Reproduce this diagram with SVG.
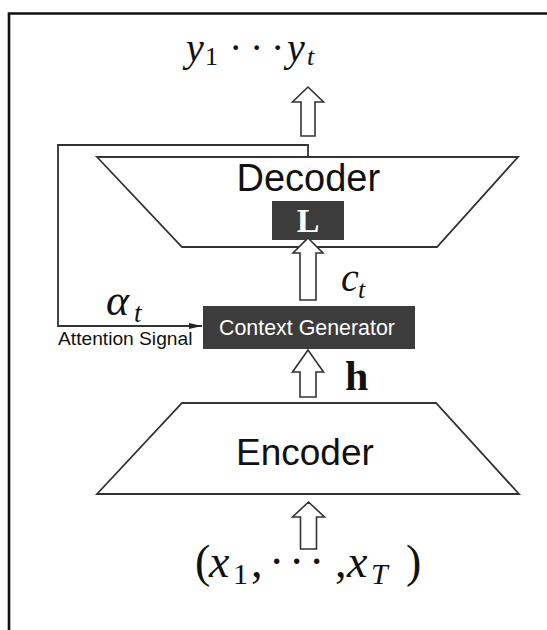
<svg xmlns="http://www.w3.org/2000/svg" width="547" height="630" viewBox="0 0 547 630">
<defs>
<style>
.shape{fill:#fff;stroke:#333;stroke-width:1.8}
.blk{fill:#fff;stroke:#333;stroke-width:1.6}
.dark{fill:#3c3c3c}
.sans{font-family:"Liberation Sans",Arial,sans-serif}
.math{font-family:"Liberation Serif","Times New Roman",serif;fill:#111}
.it{font-style:italic}
.conn{fill:none;stroke:#333;stroke-width:1.8}
</style>
<marker id="ah" markerWidth="14" markerHeight="8" refX="13" refY="4" orient="auto" markerUnits="userSpaceOnUse">
<path d="M0,1 L13,4 L0,7 Z" fill="#222"/>
</marker>
</defs>
<rect width="547" height="630" fill="#fff"/>
<path d="M9,630 V13.5 H547" fill="none" stroke="#111" stroke-width="2.6"/>

<g id="connectors">
<polyline class="conn" points="308,157 308,145 58,145 58,326 202,326" marker-end="url(#ah)"/>
</g>

<g id="output">
<text class="math" y="61" font-size="40"><tspan x="186" class="it">y</tspan><tspan x="205" dy="4" font-size="26">1</tspan><tspan x="229" dy="-4">·</tspan><tspan x="250">·</tspan><tspan x="271">·</tspan><tspan x="287" class="it">y</tspan><tspan x="307" dy="4" font-size="26" class="it">t</tspan></text>
<path class="blk" d="M308,87 L323.5,102 L315,102 L315,136 L301,136 L301,102 L292.5,102 Z"/>
</g>

<g id="decoder">
<polygon class="shape" points="97,157 518,157 437,247 182,247"/>
<text class="sans" x="236.5" y="191" font-size="38" fill="#111">Decoder</text>
<rect class="dark" x="272" y="201" width="72" height="39"/>
<text class="math" x="308" y="232" font-size="34" font-weight="bold" text-anchor="middle" style="fill:#fff">L</text>
</g>

<g id="ct-arrow">
<path class="blk" d="M308,238 L323,253 L316,253 L316,300 L300,300 L300,253 L293,253 Z"/>
<text class="math" y="291" font-size="40"><tspan x="341" class="it">c</tspan><tspan x="358" dy="7" font-size="26" class="it">t</tspan></text>
</g>

<g id="attention">
<text class="math" y="315" font-size="44"><tspan x="106" class="it">α</tspan><tspan x="134" dy="7" font-size="27" class="it">t</tspan></text>
<text class="sans" x="58" y="345" font-size="19.2" fill="#111">Attention Signal</text>
</g>

<g id="context-generator">
<rect class="dark" x="203" y="306" width="212" height="43"/>
<text class="sans" x="307" y="335" font-size="21.4" fill="#fff" text-anchor="middle">Context Generator</text>
</g>

<g id="h-arrow">
<path class="blk" d="M308,350 L323.5,372 L316,372 L316,397 L300,397 L300,372 L292.5,372 Z"/>
<text class="math" x="345" y="390" font-size="42" font-weight="bold">h</text>
</g>

<g id="encoder">
<polygon class="shape" points="182,403 436,403 519,494 97,494"/>
<text class="sans" x="236" y="465" font-size="37" fill="#111">Encoder</text>
</g>

<g id="input">
<path class="blk" d="M308.5,502 L324.5,517 L316.5,517 L316.5,549 L300.5,549 L300.5,517 L292.5,517 Z"/>
<text class="math" y="577" font-size="46"><tspan x="195">(</tspan><tspan x="209" class="it">x</tspan><tspan x="233" dy="7" font-size="30">1</tspan><tspan x="251" dy="-7">,</tspan><tspan x="269">·</tspan><tspan x="289">·</tspan><tspan x="309">·</tspan><tspan x="335">,</tspan><tspan x="347" class="it">x</tspan><tspan x="371" dy="7" font-size="30" class="it">T</tspan><tspan x="406" dy="-7">)</tspan></text>
</g>
</svg>
